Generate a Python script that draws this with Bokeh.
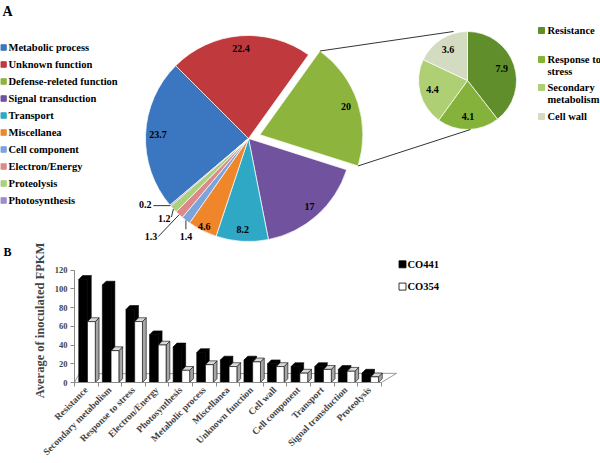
import math
from bokeh.plotting import figure
from bokeh.layouts import column
from bokeh.models import (Range1d, FixedTicker, CustomJSTickFormatter, Title)
from bokeh.embed import file_html
from bokeh.resources import INLINE
from bokeh.core.properties import value

# ---------------- data ----------------
pie_categories = ["Metabolic process", "Unknown function", "Defense-releted function",
                  "Signal transduction", "Transport", "Miscellanea", "Cell component",
                  "Electron/Energy", "Proteolysis", "Photosynthesis"]
pie_values = [23.7, 22.4, 20, 17, 8.2, 4.6, 1.4, 1.3, 1.2, 0.2]
pie_colors = ["#3b76c0", "#c0393c", "#8db43c", "#71529e", "#2fa8c6", "#ef862a",
              "#7ba3dc", "#db8a8a", "#abd07c", "#9d8cc8"]

sub_categories = ["Resistance", "Response to stress", "Secondary metabolism", "Cell wall"]
sub_legend_lines = [["Resistance"], ["Response to", "stress"], ["Secondary", "metabolism"], ["Cell wall"]]
sub_values = [7.9, 4.1, 4.4, 3.6]
sub_colors = ["#5f8e2a", "#84b23a", "#aecf73", "#d3dcc0"]

bar_categories = ["Resistance", "Secondary metabolism", "Response to stress", "Electron/Energy",
                  "Photosynthesis", "Metabolic process", "Miscellanea", "Unknown function",
                  "Cell wall", "Cell component", "Transport", "Signal transduction", "Proteolysis"]
series_names = ["CO441", "CO354"]
co441 = [110, 104, 78, 51, 38, 32, 24, 24, 20, 17, 17, 14, 10]
co354 = [65, 34, 65, 40, 13, 19, 17, 22, 17, 10, 14, 12, 6]
y_ticks = [0, 20, 40, 60, 80, 100, 120]

FONT = value("Liberation Serif")
FONT_NAME = "Liberation Serif"
W = 600
H1 = 242
H2 = 463 - H1

def no_align(p):
    if hasattr(p, "frame_align"):
        p.frame_align = False

# ---------------- top figure (pies) ----------------
top = figure(width=W, height=H1, x_range=Range1d(0, W), y_range=Range1d(-H1, 0),
             output_backend="svg", toolbar_location=None, x_axis_type=None, y_axis_type=None,
             min_border=0, title=None)
no_align(top)
top.outline_line_color = None
top.xgrid.visible = False
top.ygrid.visible = False

cx, cy, R = 248.0, -138.0, 103.0
total = sum(pie_values)
theta0 = 135.0 + 360.0 * pie_values[0] / total
explode_idx = 2
explode = 12.0

starts, ends, bis, xs, ys = [], [], [], [], []
cum = 0.0
for i, v in enumerate(pie_values):
    a0 = theta0 - 360.0 * cum / total
    a1 = theta0 - 360.0 * (cum + v) / total
    cum += v
    b = (a0 + a1) / 2
    starts.append(a0); ends.append(a1); bis.append(b)
    off = explode if i == explode_idx else 0.0
    xs.append(cx + off * math.cos(math.radians(b)))
    ys.append(cy + off * math.sin(math.radians(b)))

top.wedge(x=xs, y=ys, radius=R,
          start_angle=[math.radians(a) for a in ends],
          end_angle=[math.radians(a) for a in starts],
          fill_color=pie_colors, line_color="white", line_width=1, line_alpha=0.7)

# value labels inside big slices
lab_r = [0.88, 0.88, 0.88, 0.89, 0.89, 0.96]
lx, ly, lt = [], [], []
for i in range(6):
    lx.append(xs[i] + lab_r[i] * R * math.cos(math.radians(bis[i])))
    ly.append(ys[i] + lab_r[i] * R * math.sin(math.radians(bis[i])))
    lt.append(f"{pie_values[i]:g}")
top.text(x=lx, y=ly, text=lt, text_align="center", text_baseline="middle",
         text_font=FONT, text_font_size="10px", text_font_style="bold", text_color="black")

# small slices with leader lines (offsets from slice edge, in px)
lead_end = {6: (0, -9), 7: (-21, -22), 8: (-2, -8), 9: (-17, 0)}
text_off = {6: (0, -16), 7: (-22, -22), 8: (-3, -9), 9: (-19, 1)}
text_al = {6: "center", 7: "right", 8: "right", 9: "right"}
for i in range(6, 10):
    ex = xs[i] + R * math.cos(math.radians(bis[i]))
    ey = ys[i] + R * math.sin(math.radians(bis[i]))
    top.line(x=[ex, ex + lead_end[i][0]], y=[ey, ey + lead_end[i][1]], line_color="black", line_width=0.8)
    top.text(x=[ex + text_off[i][0]], y=[ey + text_off[i][1]], text=[f"{pie_values[i]:g}"],
             text_align=text_al[i], text_baseline="middle", text_font=FONT,
             text_font_size="10px", text_font_style="bold", text_color="black")

# left legend
leg_y = [-(47 + 17 * i) for i in range(len(pie_categories))]
top.scatter(x=[3] * len(pie_categories), y=leg_y, marker="square", size=5.5,
            fill_color=pie_colors, line_color=pie_colors)
top.text(x=[8] * len(pie_categories), y=leg_y, text=pie_categories, text_baseline="middle",
         text_font=FONT, text_font_size="10.5px", text_font_style="bold", text_color="black")

# sub pie
scx, scy, sR = 467.0, -80.0, 49.0
stot = sum(sub_values)
s_st, s_en, s_bi = [], [], []
cum = 0.0
for v in sub_values:
    a0 = 90.0 - 360.0 * cum / stot
    a1 = 90.0 - 360.0 * (cum + v) / stot
    cum += v
    s_st.append(a0); s_en.append(a1); s_bi.append((a0 + a1) / 2)
top.wedge(x=scx, y=scy, radius=sR,
          start_angle=[math.radians(a) for a in s_en],
          end_angle=[math.radians(a) for a in s_st],
          fill_color=sub_colors, line_color="white", line_width=1, line_alpha=0.7)
top.text(x=[scx + 0.74 * sR * math.cos(math.radians(b)) for b in s_bi],
         y=[scy + 0.74 * sR * math.sin(math.radians(b)) for b in s_bi],
         text=[f"{v:g}" for v in sub_values], text_align="center", text_baseline="middle",
         text_font=FONT, text_font_size="10px", text_font_style="bold", text_color="black")

# connector lines from exploded slice to sub pie
gx, gy = xs[explode_idx], ys[explode_idx]
p_top = (gx + R * math.cos(math.radians(starts[explode_idx])), gy + R * math.sin(math.radians(starts[explode_idx])))
p_bot = (gx + R * math.cos(math.radians(ends[explode_idx])), gy + R * math.sin(math.radians(ends[explode_idx])))
top.segment(x0=[p_top[0], p_bot[0]], y0=[p_top[1], p_bot[1]],
            x1=[scx - 14, scx + 3], y1=[scy + sR, scy - sR],
            line_color="black", line_width=0.8)

# right legend
first_y = [30, 59, 87, 116]
top.scatter(x=[541] * 4, y=[-y for y in first_y], marker="square", size=6,
            fill_color=sub_colors, line_color=sub_colors)
rx, ry, rt = [], [], []
for k, lines in enumerate(sub_legend_lines):
    for j, t in enumerate(lines):
        rx.append(547); ry.append(-(first_y[k] + 12 * j)); rt.append(t)
top.text(x=rx, y=ry, text=rt, text_baseline="middle", text_font=FONT,
         text_font_size="10.5px", text_font_style="bold", text_color="black")

top.text(x=[2], y=[-3.5], text=["A"], text_baseline="top", text_font=FONT,
         text_font_size="14px", text_font_style="bold", text_color="black")

# ---------------- bottom figure (bars) ----------------
PX_X = 23.6
PX_Y = 0.967
left_border = 74
bottom_border = 79
top_border = 14
frame_bottom_page = H1 + H2 - bottom_border   # 384
n = len(bar_categories)
bot = figure(width=W, height=H2,
             x_range=Range1d(0, (W - left_border) / PX_X),
             y_range=Range1d(0, (H2 - bottom_border - top_border) / PX_Y),
             output_backend="svg", toolbar_location=None, title=None,
             min_border_left=left_border, min_border_right=0, min_border_top=top_border,
             min_border_bottom=bottom_border)
no_align(bot)
bot.outline_line_color = None
bot.xgrid.visible = False
bot.ygrid.visible = False
bot.add_layout(Title(text="B", align="left", offset=-left_border + 3, standoff=0,
                     text_font=FONT_NAME, text_font_size="12px", text_font_style="bold",
                     text_color="black"), "above")

# floor
bot.patch(x=[0, n, n + 0.65, 0.2], y=[0, 0, 9.8, 9.3], fill_color="white",
          line_color="#9a9a9a", line_width=1)

BL, BR, WL, WR = 0.18, 0.55, 0.55, 0.88
DX, DY = 0.16, 4.1

def faces(vals, l, r):
    tops_x, tops_y, side_x, side_y = [], [], [], []
    for i, v in enumerate(vals):
        L, Rr = i + l, i + r
        tops_x.append([L, Rr, Rr + DX, L + DX]); tops_y.append([v, v, v + DY, v + DY])
        side_x.append([Rr, Rr + DX, Rr + DX, Rr]); side_y.append([0, DY, v + DY, v])
    return tops_x, tops_y, side_x, side_y

tx, ty, sx, sy = faces(co441, BL, BR)
bot.patches(xs=sx, ys=sy, fill_color="black", line_color="black", line_width=0.6)
bot.patches(xs=tx, ys=ty, fill_color="black", line_color="black", line_width=0.6)
bot.quad(left=[i + BL for i in range(n)], right=[i + BR for i in range(n)],
         bottom=0, top=co441, fill_color="black", line_color="black", line_width=0.6)

tx, ty, sx, sy = faces(co354, WL, WR)
bot.patches(xs=sx, ys=sy, fill_color="#a6a6a6", line_color="black", line_width=0.6)
bot.patches(xs=tx, ys=ty, fill_color="#d9d9d9", line_color="black", line_width=0.6)
bot.quad(left=[i + WL for i in range(n)], right=[i + WR for i in range(n)],
         bottom=0, top=co354, fill_color="white", line_color="black", line_width=0.6)

# bar legend (placed from page positions)
leg_px_x = 402
leg_px_y = [262, 285]
lgx = (leg_px_x - left_border) / PX_X
lgy = [(frame_bottom_page - py) / PX_Y for py in leg_px_y]
bot.scatter(x=[lgx, lgx], y=lgy, marker="square", size=7, fill_color=["black", "white"],
            line_color="black", line_width=0.8)
bot.text(x=[lgx + 5 / PX_X] * 2, y=lgy, text=series_names, text_baseline="middle", text_font=FONT,
         text_font_size="10.5px", text_font_style="bold", text_color="black")

# axes
bot.yaxis.ticker = FixedTicker(ticks=y_ticks)
bot.yaxis.bounds = (0, 120)
bot.yaxis.minor_tick_line_color = None
bot.yaxis.major_tick_in = 0
bot.yaxis.major_tick_out = 4
bot.yaxis.axis_line_color = "#8a8a8a"
bot.yaxis.major_tick_line_color = "#8a8a8a"
bot.yaxis.major_label_text_font = FONT_NAME
bot.yaxis.major_label_text_font_size = "8.5px"
bot.yaxis.major_label_text_font_style = "bold"
bot.yaxis.major_label_standoff = 3
bot.yaxis.axis_label = "Average of inoculated FPKM"
bot.yaxis.axis_label_text_font = FONT_NAME
bot.yaxis.axis_label_text_font_size = "12.5px"
bot.yaxis.axis_label_text_font_style = "bold"
bot.yaxis.axis_label_standoff = 5

centers = [i + 0.5 for i in range(n)]
bot.xaxis.ticker = FixedTicker(ticks=centers, minor_ticks=list(range(n + 1)))
bot.xaxis.bounds = (0, n)
bot.xaxis.formatter = CustomJSTickFormatter(args=dict(names=bar_categories),
                                            code="const k = Math.floor(tick); return (k >= 0 && k < names.length) ? names[k] : '';")
bot.xaxis.major_label_orientation = math.pi / 4
bot.xaxis.major_label_text_font = FONT_NAME
bot.xaxis.major_label_text_font_size = "9.5px"
bot.xaxis.major_label_text_font_style = "bold"
bot.xaxis.major_label_standoff = 2
bot.xaxis.major_tick_in = 0
bot.xaxis.major_tick_out = 0
bot.xaxis.minor_tick_in = 0
bot.xaxis.minor_tick_out = 4
bot.xaxis.axis_line_color = "#8a8a8a"
bot.xaxis.minor_tick_line_color = "#8a8a8a"

layout = column(top, bot, spacing=0)
open("out.html", "w").write(file_html(layout, INLINE))
